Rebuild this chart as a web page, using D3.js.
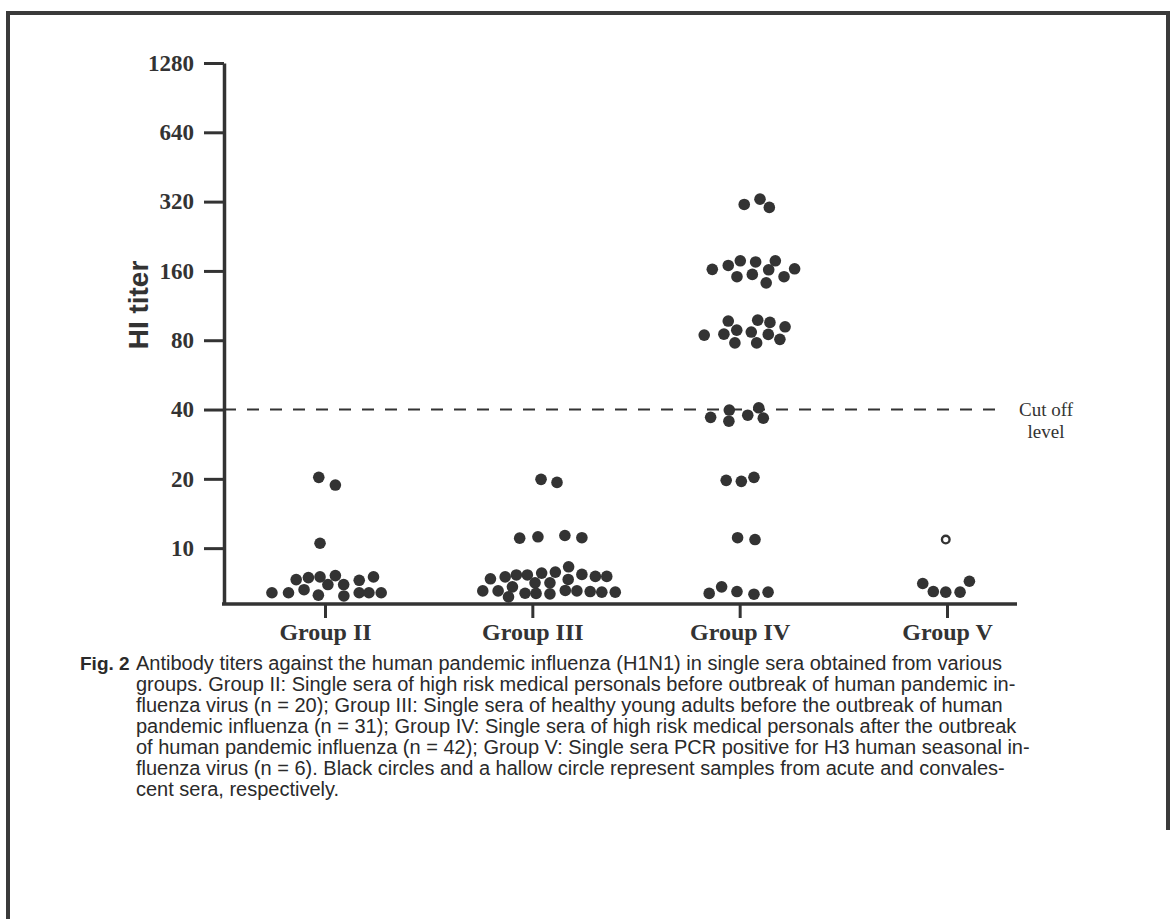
<!DOCTYPE html>
<html lang="en">
<head>
  <meta charset="UTF-8" />
  <title>HI titer by group</title>
  <style>
    body { margin: 0; background: #fff; }
    svg { display: block; }
    .axis path, .axis line { stroke: #333; }
    .tick text { font-family: "Liberation Serif", "Times New Roman", serif; font-weight: bold; fill: #333; }
    .caption { font-family: "Liberation Sans", Arial, sans-serif; font-size: 20px; fill: #2a2a2a; }
  </style>
</head>
<body>
  <script src="https://d3js.org/d3.v7.min.js"></script>
  <script>
    // groups on the x axis
    const groups = ["Group II", "Group III", "Group IV", "Group V"];
    const yTicks = [10, 20, 40, 80, 160, 320, 640, 1280];
    const cutoff = 40;

    // HI titers, with horizontal spread (fraction of group spacing)
    const titerII = [20.3, 18.8, 10.5, 6.4, 6.4, 7.3, 6.6, 7.45, 7.5, 6.25, 6.95, 7.6, 6.95, 6.2, 7.25, 6.4, 6.4, 7.5, 6.4];
    const jitterII = [-0.03, 0.05, -0.024, -0.256, -0.176, -0.139, -0.101, -0.08, -0.024, -0.032, 0.014, 0.05, 0.09, 0.091, 0.165, 0.165, 0.212, 0.234, 0.271];

    const titerIII = [19.9, 19.3, 11.05, 11.2, 11.35, 11.1, 8.3, 7.36, 7.5, 7.65, 7.65, 7.79, 7.87, 7.69, 7.54, 7.54,
      7.07, 7.07, 7.31, 6.79, 6.52, 6.52, 6.37, 6.36, 6.33, 6.55, 6.52, 6.48, 6.44, 6.44, 6.14];
    const jitterIII = [0.042, 0.119, -0.061, 0.027, 0.157, 0.239, 0.175, -0.202, -0.131, -0.077, -0.024, 0.045, 0.111, 0.239, 0.304, 0.359,
      0.013, 0.085, 0.173, -0.096, -0.239, -0.165, -0.035, 0.018, 0.085, 0.159, 0.215, 0.279, 0.335, 0.4, -0.115];

    const titerIV = [311, 328, 302,
      162.5, 169, 177, 151, 175, 154.5, 161.8, 177, 142, 151, 163.4,
      84.2, 85, 96.9, 88.5, 77.9, 97.8, 86.8, 77.9, 95.6, 84.8, 80.7, 91.5,
      37, 39.8, 35.6, 37.8, 40.7, 36.7,
      19.7, 19.5, 20.3,
      11.1, 10.9,
      6.36, 6.79, 6.48, 6.31, 6.44];
    const jitterIV = [0.022, 0.098, 0.143,
      -0.132, -0.055, 0.003, -0.013, 0.077, 0.061, 0.14, 0.172, 0.128, 0.214, 0.265,
      -0.171, -0.076, -0.055, -0.014, -0.023, 0.087, 0.056, 0.082, 0.146, 0.138, 0.194, 0.219,
      -0.14, -0.05, -0.052, 0.039, 0.092, 0.114,
      -0.065, 0.008, 0.069,
      -0.01, 0.074,
      -0.147, -0.087, -0.013, 0.069, 0.137];

    // group V: acute sera (filled) and one convalescent serum (hollow)
    const titerV = [7.02, 6.48, 6.44, 6.44, 7.18];
    const jitterV = [-0.117, -0.066, -0.006, 0.063, 0.108];
    const titerVHollow = [10.9];
    const jitterVHollow = [-0.006];

    const captionLines = [
      "Antibody titers against the human pandemic influenza (H1N1) in single sera obtained from various",
      "groups. Group II: Single sera of high risk medical personals before outbreak of human pandemic in-",
      "fluenza virus (n = 20); Group III: Single sera of healthy young adults before the outbreak of human",
      "pandemic influenza (n = 31); Group IV: Single sera of high risk medical personals after the outbreak",
      "of human pandemic influenza (n = 42); Group V: Single sera PCR positive for H3 human seasonal in-",
      "fluenza virus (n = 6). Black circles and a hallow circle represent samples from acute and convales-",
      "cent sera, respectively."
    ];

    const width = 1173, height = 919;
    const ink = "#333";

    const svg = d3.select("body").append("svg")
      .attr("width", width)
      .attr("height", height);

    svg.append("rect").attr("width", width).attr("height", height).attr("fill", "#fff");

    // scanned frame
    svg.append("path")
      .attr("d", "M8,919 V13 H1168 V830")
      .attr("fill", "none")
      .attr("stroke", "#3a3a3a")
      .attr("stroke-width", 4);

    const x = d3.scalePoint().domain(groups).range([325, 947]);
    const y = d3.scaleLog().base(2).domain([5.72, 1280]).range([604, 63]);
    const axisX = 224;

    // y axis
    const yAxis = svg.append("g")
      .attr("class", "axis")
      .attr("transform", `translate(${axisX},0)`)
      .call(d3.axisLeft(y).tickValues(yTicks).tickFormat(d3.format("d")).tickSize(20).tickSizeOuter(0).tickPadding(10));
    yAxis.select(".domain").attr("stroke-width", 3.5);
    yAxis.selectAll(".tick line").attr("stroke-width", 3);
    yAxis.selectAll(".tick text").attr("font-size", 23);

    // x axis
    const xAxis = svg.append("g")
      .attr("class", "axis")
      .attr("transform", `translate(0,${y.range()[0]})`)
      .call(d3.axisBottom(x).tickSize(14).tickSizeOuter(0));
    xAxis.select(".domain").remove();
    xAxis.append("line")
      .attr("x1", axisX - 2).attr("x2", 1017)
      .attr("stroke", ink).attr("stroke-width", 3.5);
    xAxis.selectAll(".tick line").attr("stroke-width", 3);
    xAxis.selectAll(".tick text")
      .attr("font-size", 24)
      .attr("y", 36)
      .attr("dy", null);

    // y label
    svg.append("text")
      .attr("transform", "translate(148,305) rotate(-90)")
      .attr("text-anchor", "middle")
      .attr("font-family", "'Liberation Sans', Arial, sans-serif")
      .attr("font-weight", "bold")
      .attr("font-size", 28)
      .attr("fill", ink)
      .text("HI titer");

    // cut off level
    svg.append("line")
      .attr("x1", axisX).attr("x2", 1000)
      .attr("y1", y(cutoff)).attr("y2", y(cutoff))
      .attr("stroke", ink)
      .attr("stroke-width", 2)
      .attr("stroke-dasharray", "12,11");

    const cut = svg.append("text")
      .attr("text-anchor", "middle")
      .attr("font-family", "'Liberation Serif', 'Times New Roman', serif")
      .attr("font-size", 19)
      .attr("fill", ink);
    cut.append("tspan").attr("x", 1046).attr("y", y(cutoff) + 6).text("Cut off");
    cut.append("tspan").attr("x", 1046).attr("dy", 22).text("level");

    // points
    const step = x.step();
    const toPoints = (g, titers, jitter) => titers.map((v, i) => ({ group: g, titer: v, dx: jitter[i] }));
    const filled = [].concat(
      toPoints("Group II", titerII, jitterII),
      toPoints("Group III", titerIII, jitterIII),
      toPoints("Group IV", titerIV, jitterIV),
      toPoints("Group V", titerV, jitterV)
    );
    const hollow = toPoints("Group V", titerVHollow, jitterVHollow);

    svg.append("g")
      .selectAll("circle")
      .data(filled)
      .enter()
      .append("circle")
      .attr("cx", d => x(d.group) + d.dx * step)
      .attr("cy", d => y(d.titer))
      .attr("r", 5.8)
      .attr("fill", ink);

    svg.append("g")
      .selectAll("circle")
      .data(hollow)
      .enter()
      .append("circle")
      .attr("cx", d => x(d.group) + d.dx * step)
      .attr("cy", d => y(d.titer))
      .attr("r", 3.8)
      .attr("fill", "#fff")
      .attr("stroke", ink)
      .attr("stroke-width", 2.4);

    // caption
    const cap = svg.append("g").attr("class", "caption");
    cap.append("text")
      .attr("x", 80).attr("y", 670)
      .attr("font-weight", "bold")
      .attr("font-size", 19)
      .text("Fig. 2");
    cap.selectAll("text.line")
      .data(captionLines)
      .enter()
      .append("text")
      .attr("class", "line")
      .attr("x", 136)
      .attr("y", (d, i) => 670 + i * 21)
      .text(d => d);
  </script>
</body>
</html>
